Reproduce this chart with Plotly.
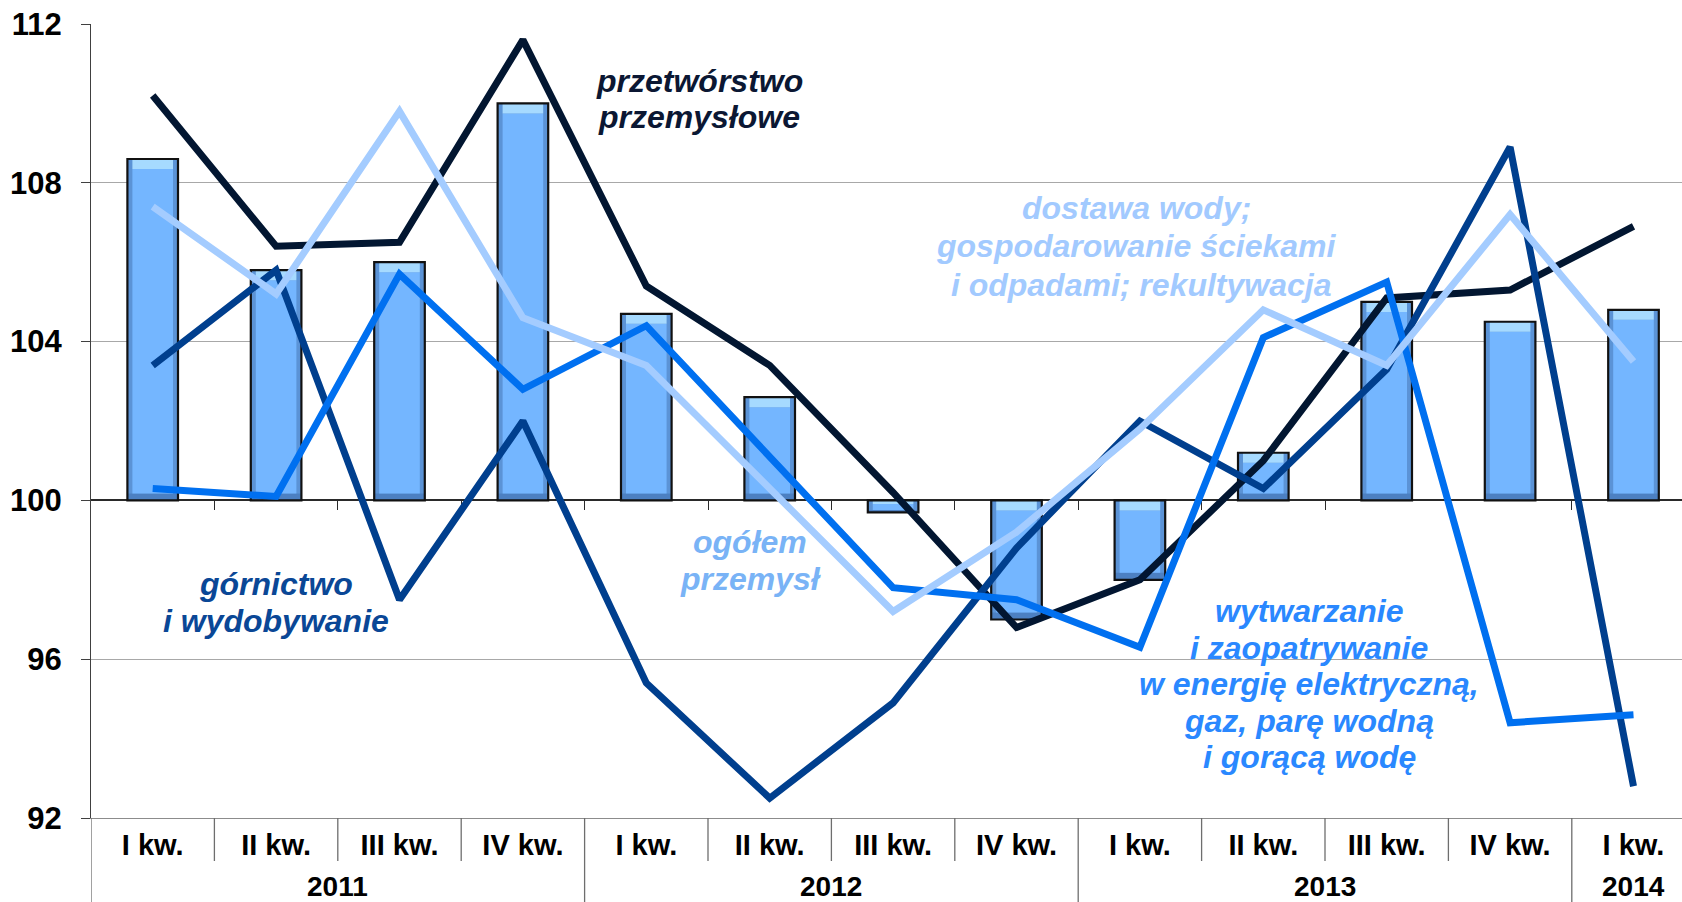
import plotly.graph_objects as go

# ---------------- data ----------------
QUARTERS = ["I kw.", "II kw.", "III kw.", "IV kw.",
            "I kw.", "II kw.", "III kw.", "IV kw.",
            "I kw.", "II kw.", "III kw.", "IV kw.",
            "I kw."]
YEARS = ["2011", "2012", "2013", "2014"]
YEAR_SPANS = [4, 4, 4, 1]

OGOLEM = [108.6, 105.8, 106.0, 110.0, 104.7, 102.6, 99.7, 97.0, 98.0, 101.2, 105.0, 104.5, 104.8]
PRZETWORSTWO = [110.2, 106.4, 106.5, 111.6, 105.4, 103.4, 100.2, 96.8, 98.0, 101.0, 105.1, 105.3, 106.9]
GORNICTWO = [103.4, 105.8, 97.5, 102.0, 95.4, 92.5, 94.9, 98.8, 102.0, 100.3, 103.3, 108.9, 92.8]
DOSTAWA = [107.4, 105.2, 109.8, 104.6, 103.4, 100.3, 97.2, 99.2, 101.8, 104.8, 103.4, 107.2, 103.5]
WYTWARZANIE = [100.3, 100.1, 105.7, 102.8, 104.4, 101.1, 97.8, 97.5, 96.3, 104.1, 105.5, 94.4, 94.6]

Y_TICKS = [92, 96, 100, 104, 108, 112]
BASE = 100

# ---------------- styles / layout ----------------
W, H = 1682, 902
ML, MR, MT, MB = 91, 0, 24, 84
PW, PH = W - ML - MR, H - MT - MB
CAT_PX = 123.4
X_RANGE = [-0.5, -0.5 + PW / CAT_PX]
Y_RANGE = [92, 112]
UNIT_PX = PH / (Y_RANGE[1] - Y_RANGE[0])

FONT = "Liberation Sans, Arial, sans-serif"
C_PRZ = "#021631"
C_GOR = "#003F8E"
C_DOS = "#A4CCFF"
C_WYT = "#0070F0"
C_BAR = "#74B6FF"
C_BAR_SIDE = "#5B93D6"
C_BAR_BOTTOM = "#4C80C2"
C_BAR_TOP = "#A6DAFF"
LINE_W = 7
BAR_W = 0.41

x = list(range(len(QUARTERS)))

fig = go.Figure()

# ---- bars with a simple bevel look, built from OGOLEM ----
tops = [max(v, BASE) for v in OGOLEM]
bots = [min(v, BASE) for v in OGOLEM]
hts = [t - b for t, b in zip(tops, bots)]
tb = [min(10 / UNIT_PX, 0.3 * h) for h in hts]
bb = [min(7 / UNIT_PX, 0.2 * h) for h in hts]
side = 5 / CAT_PX

fig.add_trace(go.Bar(x=x, y=hts, base=bots, width=BAR_W,
                     marker=dict(color=C_BAR_BOTTOM, line=dict(width=0)),
                     hoverinfo="skip", showlegend=False))
fig.add_trace(go.Bar(x=x, y=[h - b for h, b in zip(hts, bb)],
                     base=[b0 + b for b0, b in zip(bots, bb)], width=BAR_W,
                     marker=dict(color=C_BAR_SIDE, line=dict(width=0)),
                     hoverinfo="skip", showlegend=False))
fig.add_trace(go.Bar(x=x, y=[h - t - b for h, t, b in zip(hts, tb, bb)],
                     base=[b0 + b for b0, b in zip(bots, bb)], width=BAR_W - 2 * side,
                     marker=dict(color=C_BAR, line=dict(width=0)),
                     hoverinfo="skip", showlegend=False))
fig.add_trace(go.Bar(x=x, y=tb, base=[t - b for t, b in zip(tops, tb)], width=BAR_W - 2 * side,
                     marker=dict(color=C_BAR_TOP, line=dict(width=0)),
                     hoverinfo="skip", showlegend=False))
fig.add_trace(go.Bar(x=x, y=hts, base=bots, width=BAR_W, name="ogółem przemysł",
                     marker=dict(color="rgba(0,0,0,0)", line=dict(color="#111111", width=2.2)),
                     showlegend=False))

# ---- lines ----
for name, vals, col in [("przetwórstwo przemysłowe", PRZETWORSTWO, C_PRZ),
                        ("górnictwo i wydobywanie", GORNICTWO, C_GOR),
                        ("wytwarzanie i zaopatrywanie", WYTWARZANIE, C_WYT),
                        ("dostawa wody", DOSTAWA, C_DOS)]:
    fig.add_trace(go.Scatter(x=x, y=vals, mode="lines", name=name,
                             line=dict(color=col, width=LINE_W), showlegend=False))

# invisible trace to realise the axis drawn at y=100
fig.add_trace(go.Scatter(x=[0], y=[BASE], xaxis="x2", mode="markers",
                         marker=dict(opacity=0), hoverinfo="skip", showlegend=False))

boundaries = [i + 0.5 for i in range(len(QUARTERS) - 1)]

fig.update_layout(
    width=W, height=H,
    margin=dict(l=ML, r=MR, t=MT, b=MB, pad=0),
    paper_bgcolor="white", plot_bgcolor="white",
    barmode="overlay",
    showlegend=False,
    font=dict(family=FONT, color="black"),
    xaxis=dict(range=X_RANGE, tickmode="array", tickvals=x, ticktext=QUARTERS,
               showgrid=False, zeroline=False, showline=True, linecolor="#8C8C8C", linewidth=1.3,
               ticks="", ticklabelstandoff=1,
               tickfont=dict(family=FONT, size=29, color="black", weight="bold")),
    xaxis2=dict(range=X_RANGE, overlaying="x", anchor="free",
                position=(BASE - Y_RANGE[0]) / (Y_RANGE[1] - Y_RANGE[0]),
                showline=True, linecolor="#2A2A2A", linewidth=1.5,
                ticks="outside", tickmode="array", tickvals=boundaries, ticklen=9,
                tickcolor="#2A2A2A", tickwidth=1.3, showticklabels=False,
                showgrid=False, zeroline=False, layer="below traces"),
    yaxis=dict(range=Y_RANGE, tickmode="array", tickvals=Y_TICKS,
               showgrid=True, gridcolor="#A8A8A8", gridwidth=1.3, zeroline=False,
               showline=True, linecolor="#404040", linewidth=1.3,
               ticks="outside", ticklen=9, tickcolor="#404040", tickwidth=1.3,
               ticklabelstandoff=13,
               tickfont=dict(family=FONT, size=31, color="black", weight="bold")),
)

# ---- dividers in the category label area ----
shapes = []
year_bounds = []
acc = 0
for s in YEAR_SPANS[:-1]:
    acc += s
    year_bounds.append(acc - 0.5)
short_y = -43 / PH
long_y = -(MB + 2) / PH
for b in [-0.5] + boundaries:
    y1 = long_y if (b == -0.5 or b in year_bounds) else short_y
    shapes.append(dict(type="line", xref="x", yref="paper", x0=b, x1=b, y0=0, y1=y1,
                       line=dict(color="#6E6E6E", width=1.3), layer="above"))
fig.update_layout(shapes=shapes)

# ---- year labels ----
annotations = []
start = 0
for yr, s in zip(YEARS, YEAR_SPANS):
    cx = start + (s - 1) / 2
    annotations.append(dict(x=cx, xref="x", y=-(886 - (H - MB)) / PH, yref="paper",
                            text=yr, showarrow=False, xanchor="center", yanchor="middle",
                            borderpad=0,
                            font=dict(family=FONT, size=28, color="black", weight="bold")))
    start += s

# ---- series labels (one annotation per line) ----
SERIES_LABELS = [
    (["przetwórstwo", "przemysłowe"], 699, 81, 36.5, "#0B1733"),
    (["dostawa wody;", "gospodarowanie ściekami", " i odpadami; rekultywacja"], 1136, 208, 38.5, "#A2CAFF"),
    (["ogółem", "przemysł"], 750, 542, 36.5, "#79B3F6"),
    (["górnictwo", "i wydobywanie"], 276, 584, 36.5, "#0A4796"),
    (["wytwarzanie", "i zaopatrywanie", "w energię elektryczną,", "gaz, parę wodną", "i gorącą wodę"],
     1309, 611, 36.6, "#2A88FF"),
]
for lines, cx, cy, step, col in SERIES_LABELS:
    for k, line in enumerate(lines):
        py = cy + k * step
        annotations.append(dict(x=(cx - ML) / PW, xref="paper", y=((H - MB) - py) / PH, yref="paper",
                                text=line, showarrow=False, xanchor="center", yanchor="middle",
                                font=dict(family=FONT, size=32, color=col, weight="bold", style="italic")))
fig.update_layout(annotations=annotations)

fig.write_html("out.html", include_plotlyjs=True, config={"displayModeBar": False},
               post_script="document.body.style.margin='0';document.body.style.padding='0';")
